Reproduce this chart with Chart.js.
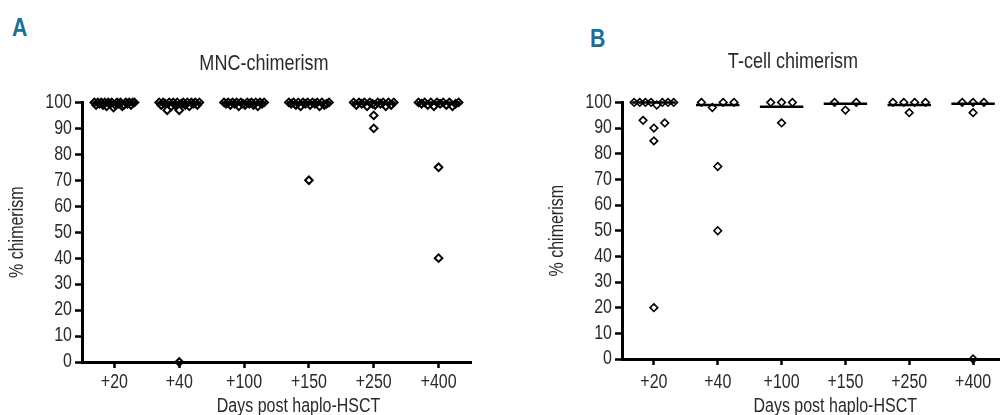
<!DOCTYPE html>
<html>
<head>
<meta charset="utf-8">
<script src="https://cdn.jsdelivr.net/npm/chart.js@4.4.0/dist/chart.umd.min.js"></script>
<style>
  html, body { margin: 0; padding: 0; width: 1000px; height: 415px; overflow: hidden; background: #fff; }
  canvas { position: absolute; top: 0; }
  .letter {
    position: absolute;
    font: bold 25px 'Liberation Sans', Arial, sans-serif;
    line-height: 1;
    color: #17709c;
    transform: scaleX(0.85);
    transform-origin: left top;
  }
</style>
</head>
<body>
<div class="letter" style="left:12px;top:15px">A</div>
<div class="letter" style="left:590px;top:26px">B</div>
<canvas id="chartA" width="528" height="415" style="left:0"></canvas>
<canvas id="chartB" width="506" height="415" style="left:540px"></canvas>
<script>
const categories = ['+20', '+40', '+100', '+150', '+250', '+400'];

// MNC chimerism (%) per time point, panel A
const mnc20 = [100, 99, 100, 99.5, 100, 99, 100, 98.5, 100, 99.5, 100, 98, 99, 100, 99.5, 100, 98.5, 99, 100, 99.5, 100, 99, 100, 100];
const mnc40 = [100, 99, 100, 99.5, 97, 100, 98.5, 100, 99, 100, 97, 99.5, 100, 99, 100, 98.5, 100, 99.5, 100, 99, 100, 0];
const mnc100 = [100, 99.5, 100, 99, 100, 99.5, 100, 98.5, 100, 99.5, 99, 100, 99.5, 100, 99, 100, 98.5, 100, 99.5, 100];
const mnc150 = [100, 99.5, 100, 99, 100, 98.5, 100, 99.5, 100, 99, 100, 99.5, 100, 98.5, 100, 99, 99.5, 100, 70];
const mnc250 = [100, 99, 100, 99.5, 100, 98.5, 100, 99.5, 99, 100, 99.5, 100, 98.5, 100, 99, 100, 95, 90];
const mnc400 = [100, 99.5, 100, 99, 100, 98.5, 100, 99.5, 100, 99, 100, 98.5, 99.5, 100, 75, 40];
const mncMedians = [100, 100, 100, 100, 100, 100];

// T-cell chimerism (%) per time point, panel B
const tcell20 = [100, 100, 100, 100, 99, 100, 100, 100, 93, 90, 92, 85, 20];
const tcell40 = [100, 98, 100, 100, 75, 50];
const tcell100 = [100, 100, 100, 92];
const tcell150 = [100, 97, 100];
const tcell250 = [100, 100, 96, 100, 100];
const tcell400 = [100, 96, 100, 100, 0];
const tcellMedians = [100, 99, 98.3, 99.5, 99, 99.5];

const FONT = "'Liberation Sans', Arial, sans-serif";
const TEXT = '#2a2a2a';
const NARROW = 0.82;   // condensed look for all canvas text

// points with close values share a row and are spread sideways, like the column scatter
const ROW_GAP = 3.5;
const STEP = 0.17;
const MAX_ROW = 0.62;

function spread(values, cat) {
    const rows = [];
    values.forEach(v => {
        let row = rows.find(r => Math.abs(r.anchor - v) <= ROW_GAP);
        if (!row) {
            row = { anchor: v, items: [] };
            rows.push(row);
        }
        row.items.push(v);
    });
    const pts = [];
    rows.forEach(r => {
        const n = r.items.length;
        const step = n > 1 ? Math.min(STEP, MAX_ROW / (n - 1)) : 0;
        r.items.forEach((v, k) => pts.push({ x: cat + (k - (n - 1) / 2) * step, y: v }));
    });
    return pts;
}

// squeeze text horizontally around its anchor, so alignment is kept
const narrowText = {
    id: 'narrowText',
    beforeInit(chart) {
        const ctx = chart.ctx;
        const fill = ctx.fillText.bind(ctx);
        ctx.fillText = function (text, x, y, maxWidth) {
            ctx.save();
            ctx.translate(x, y);
            ctx.scale(NARROW, 1);
            if (maxWidth === undefined) {
                fill(text, 0, 0);
            } else {
                fill(text, 0, 0, maxWidth / NARROW);
            }
            ctx.restore();
        };
    }
};

// x axis caption, which sits a bit right of the plot centre in the original
const xCaption = {
    id: 'xCaption',
    afterDraw(chart, args, opts) {
        const ctx = chart.ctx;
        ctx.save();
        ctx.font = `19.5px ${FONT}`;
        ctx.fillStyle = TEXT;
        ctx.textAlign = 'center';
        ctx.textBaseline = 'alphabetic';
        ctx.fillText(opts.text, chart.scales.x.getPixelForValue(opts.at), chart.height - 3);
        ctx.restore();
    }
};

function buildChart(id, title, groups, medians, dims) {
    const datasets = medians.map((m, i) => ({
        type: 'line',
        data: [{ x: i + 1 - 0.34, y: m }, { x: i + 1 + 0.34, y: m }],
        borderColor: '#000',
        borderWidth: 2.5,
        pointRadius: 0,
        clip: false,
        order: 2
    }));
    datasets.push({
        type: 'scatter',
        data: groups.flatMap((g, i) => spread(g, i + 1)),
        pointStyle: 'rectRot',
        pointRadius: dims.radius,
        borderColor: '#000',
        borderWidth: dims.stroke,
        backgroundColor: 'rgba(0,0,0,0)',
        clip: false,
        order: 1
    });

    return new Chart(document.getElementById(id), {
        type: 'scatter',
        data: { datasets },
        plugins: [narrowText, xCaption],
        options: {
            responsive: false,
            animation: false,
            events: [],
            layout: { padding: 0 },
            plugins: {
                legend: { display: false },
                tooltip: { enabled: false },
                title: {
                    display: true,
                    text: title,
                    color: TEXT,
                    font: { family: FONT, size: 22, weight: 'normal' },
                    padding: { top: dims.titleTop, bottom: dims.titleBottom }
                },
                xCaption: { text: 'Days post haplo-HSCT', at: 3.84 }
            },
            scales: {
                x: {
                    type: 'linear',
                    min: 0.5,
                    max: 6.5,
                    afterBuildTicks: s => { s.ticks = categories.map((c, i) => ({ value: i + 1 })); },
                    afterFit: s => { s.height = dims.xHeight; },
                    ticks: {
                        autoSkip: false,
                        maxRotation: 0,
                        padding: dims.xPad,
                        color: TEXT,
                        font: { family: FONT, size: 19.5 },
                        callback: v => categories[Math.round(v) - 1]
                    },
                    grid: { drawOnChartArea: false, tickLength: 6, tickWidth: 2.5, tickColor: '#000' },
                    border: { color: '#000', width: 3 },
                    title: { display: false }
                },
                y: {
                    min: 0,
                    max: 100,
                    afterFit: s => { s.width = 82; },
                    ticks: {
                        stepSize: 10,
                        autoSkip: false,
                        padding: 3,
                        color: TEXT,
                        font: { family: FONT, size: 19.5 }
                    },
                    grid: { drawOnChartArea: false, tickLength: 7, tickWidth: 2.5, tickColor: '#000' },
                    border: { color: '#000', width: 3 },
                    title: {
                        display: true,
                        text: '% chimerism',
                        color: TEXT,
                        font: { family: FONT, size: 19.5 },
                        padding: { top: 6, bottom: 0 }
                    }
                },
                // empty strip on the right so the title centres on the whole panel
                yRight: {
                    position: 'right',
                    afterFit: s => { s.width = dims.right; },
                    ticks: { display: false },
                    grid: { display: false },
                    border: { display: false }
                }
            }
        }
    });
}

buildChart('chartA', 'MNC-chimerism',
    [mnc20, mnc40, mnc100, mnc150, mnc250, mnc400], mncMedians,
    { right: 57, xHeight: 53, xPad: 3, titleTop: 51, titleBottom: 25, radius: 3.8, stroke: 2 });

buildChart('chartB', 'T-cell chimerism',
    [tcell20, tcell40, tcell100, tcell150, tcell250, tcell400], tcellMedians,
    { right: 41, xHeight: 56, xPad: 6, titleTop: 49, titleBottom: 27, radius: 3.8, stroke: 1.6 });
</script>
</body>
</html>
